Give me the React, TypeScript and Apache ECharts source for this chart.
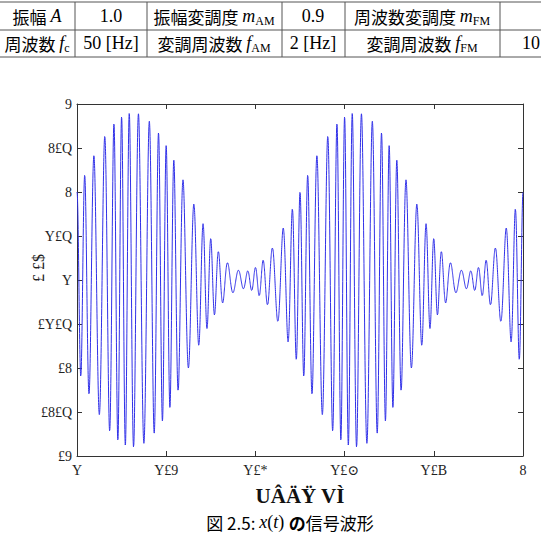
import { useEffect, useRef } from "react";
import * as echarts from "echarts";

// Signal parameters (from the parameter table)
const AMPLITUDE = 1.0; // 振幅 A
const CARRIER_HZ = 50; // 周波数 f_c
const AM_DEPTH = 0.9; // 振幅変調度 m_AM
const AM_HZ = 2; // 変調周波数 f_AM
const FM_INDEX = 1.0; // 周波数変調度 m_FM
const FM_HZ = 10; // 変調周波数 f_FM

const T_START = 0;
const T_END = 1;
const SAMPLE_RATE = 5000;

// Axis ticks and their labels as printed on the figure
const X_TICKS = [0, 0.2, 0.4, 0.6, 0.8, 1];
const X_TICK_LABELS = ["Y", "Y£9", "Y£*", "Y£⊙", "Y£B", "8"];
const Y_TICKS = [-2, -1.5, -1, -0.5, 0, 0.5, 1, 1.5, 2];
const Y_TICK_LABELS = ["£9", "£8£Q", "£8", "£Y£Q", "Y", "Y£Q", "8", "8£Q", "9"];
const X_AXIS_NAME = "UÂÄŸ VÌ";
const Y_AXIS_NAME = "£ £$";

// AM/FM modulated signal x(t)
function buildSignal(): [number, number][] {
  const n = Math.round((T_END - T_START) * SAMPLE_RATE);
  const pts: [number, number][] = [];
  for (let i = 0; i <= n; i++) {
    const t = T_START + i / SAMPLE_RATE;
    const env = AMPLITUDE * (1 + AM_DEPTH * Math.sin(2 * Math.PI * AM_HZ * t));
    const phase = 2 * Math.PI * CARRIER_HZ * t + FM_INDEX * Math.sin(2 * Math.PI * FM_HZ * t);
    pts.push([t, env * Math.cos(phase)]);
  }
  return pts;
}

const JP = '"Noto Sans CJK JP", sans-serif';
const SERIF = '"Liberation Serif", "DejaVu Serif", serif';

function labelFor(v: number, ticks: number[], labels: string[]) {
  const i = ticks.findIndex((t) => Math.abs(t - v) < 1e-6);
  return i >= 0 ? labels[i] : "";
}

const tableRich = {
  j: { fontFamily: JP, fontSize: 17, color: "#222", lineHeight: 22, verticalAlign: "middle" },
  n: { fontFamily: SERIF, fontSize: 18, color: "#222", lineHeight: 22, verticalAlign: "middle" },
  i: { fontFamily: SERIF, fontSize: 18, fontStyle: "italic", color: "#222", lineHeight: 22, verticalAlign: "middle" },
  s: { fontFamily: SERIF, fontSize: 12, color: "#222", lineHeight: 12, verticalAlign: "bottom" },
};

function cell(x: number, y: number, text: string, align = "center") {
  return {
    type: "text",
    x,
    y,
    style: { text, rich: tableRich, align, verticalAlign: "middle" },
  };
}

function hline(y: number, x1: number, x2: number) {
  return { type: "line", shape: { x1, y1: y, x2, y2: y }, style: { stroke: "#555", lineWidth: 1 } };
}
function vline(x: number, y1: number, y2: number) {
  return { type: "line", shape: { x1: x, y1, x2: x, y2 }, style: { stroke: "#555", lineWidth: 1 } };
}

export default function App() {
  const ref = useRef<HTMLDivElement>(null);

  useEffect(() => {
    document.body.style.margin = "0";
    const chart = echarts.init(ref.current!, null, { renderer: "svg" });
    const data = buildSignal();

    const axisLine = { onZero: false, lineStyle: { color: "#333", width: 1 } };
    const tick = { inside: true, length: 5, lineStyle: { color: "#333" } };
    const tickLabel = { fontFamily: SERIF, fontSize: 14, color: "#222" };

    chart.setOption({
      animation: false,
      backgroundColor: "#fff",
      grid: { left: 77, top: 104, width: 446, height: 352, containLabel: false },
      xAxis: [
        {
          type: "value",
          min: 0,
          max: 1,
          interval: 0.2,
          position: "bottom",
          axisLine,
          axisTick: tick,
          splitLine: { show: false },
          axisLabel: {
            ...tickLabel,
            margin: 7,
            formatter: (v: number) => labelFor(v, X_TICKS, X_TICK_LABELS),
          },
        },
        {
          type: "value",
          min: 0,
          max: 1,
          interval: 0.2,
          position: "top",
          axisLine,
          axisTick: tick,
          splitLine: { show: false },
          axisLabel: { show: false },
        },
      ],
      yAxis: [
        {
          type: "value",
          min: -2,
          max: 2,
          interval: 0.5,
          position: "left",
          axisLine: { show: true, ...axisLine },
          axisTick: { show: true, ...tick },
          splitLine: { show: false },
          axisLabel: {
            ...tickLabel,
            margin: 5,
            formatter: (v: number) => labelFor(v, Y_TICKS, Y_TICK_LABELS),
          },
        },
        {
          type: "value",
          min: -2,
          max: 2,
          interval: 0.5,
          position: "right",
          axisLine: { show: true, ...axisLine },
          axisTick: { show: true, ...tick },
          splitLine: { show: false },
          axisLabel: { show: false },
        },
      ],
      series: [
        {
          type: "line",
          data,
          showSymbol: false,
          symbol: "none",
          lineStyle: { color: "#3030e8", width: 1 },
          clip: true,
        },
      ],
      graphic: [
        // parameter table
        hline(2, 0, 541),
        hline(30, 0, 541),
        hline(57, 0, 541),
        vline(75, 2, 57),
        vline(147, 2, 57),
        vline(282, 2, 57),
        vline(345, 2, 57),
        vline(500, 2, 57),
        cell(37, 16, "{j|振幅 }{i|A}"),
        cell(111, 16, "{n|1.0}"),
        cell(214, 16, "{j|振幅変調度 }{i|m}{s|AM}"),
        cell(313, 16, "{n|0.9}"),
        cell(422, 16, "{j|周波数変調度 }{i|m}{s|FM}"),
        cell(37, 43, "{j|周波数 }{i|f}{s|c}"),
        cell(111, 43, "{n|50 [Hz]}"),
        cell(214, 43, "{j|変調周波数 }{i|f}{s|AM}"),
        cell(313, 43, "{n|2 [Hz]}"),
        cell(422, 43, "{j|変調周波数 }{i|f}{s|FM}"),
        cell(540, 43, "{n|10}", "right"),
        // axis names
        {
          type: "text",
          x: 300,
          y: 496,
          style: {
            text: X_AXIS_NAME,
            fontFamily: SERIF,
            fontSize: 21,
            fontWeight: "bold",
            fill: "#111",
            align: "center",
            verticalAlign: "middle",
          },
        },
        {
          type: "text",
          x: 38,
          y: 268,
          rotation: Math.PI / 2,
          style: {
            text: Y_AXIS_NAME,
            fontFamily: SERIF,
            fontSize: 16,
            fill: "#222",
            align: "center",
            verticalAlign: "middle",
          },
        },
        // figure caption
        {
          type: "text",
          x: 290,
          y: 522,
          style: {
            text: "{j|図 2.5: }{i|x}{n|(}{i|t}{n|) }{b|の}{j|信号波形}",
            align: "center",
            verticalAlign: "middle",
            rich: {
              j: { fontFamily: JP, fontSize: 17, color: "#222" },
              b: { fontFamily: JP, fontSize: 17, fontWeight: "bold", color: "#111" },
              i: { fontFamily: SERIF, fontSize: 18, fontStyle: "italic", color: "#222" },
              n: { fontFamily: SERIF, fontSize: 18, color: "#222" },
            },
          },
        },
      ],
    });

    return () => chart.dispose();
  }, []);

  return <div ref={ref} style={{ width: 541, height: 534 }} />;
}
